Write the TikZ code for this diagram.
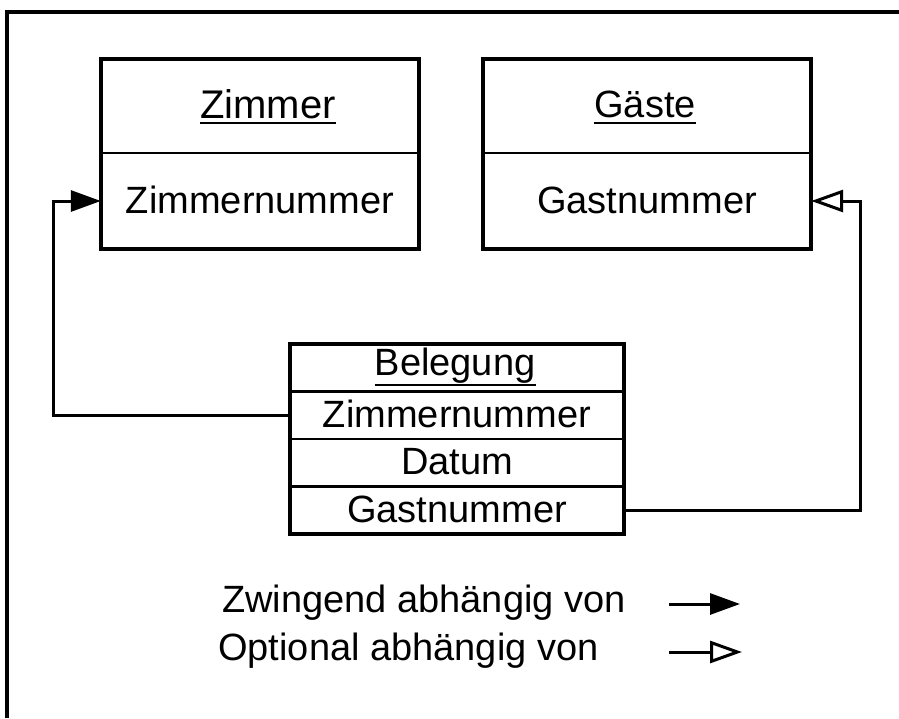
\documentclass[tikz,border=0pt]{standalone}
\usepackage{fontspec}
\setmainfont{Liberation Sans}
\usetikzlibrary{arrows.meta}
\begin{document}
\begin{tikzpicture}[x=1pt,y=-1pt,
 frame/.style={line width=4pt},
 box/.style={draw, line width=4.5pt, inner sep=0pt},
 row/.style={inner sep=0pt, font=\fontsize{38}{40}\selectfont, text height=27pt, text depth=3pt},
 ttl/.style={inner sep=0pt, anchor=base, font=\fontsize{38}{40}\selectfont},
 divider/.style={line width=2.5pt},
 uline/.style={line width=2pt},
 conn/.style={line width=3pt},
 mand/.style={conn, -{Triangle[length=30pt,width=21pt]}},
 opt/.style={conn, -{Triangle[open,length=32pt,width=22pt]}},
 legend/.style={inner sep=0pt, anchor=base west, font=\fontsize{38}{40}\selectfont}]

\useasboundingbox (0,0) rectangle (899,718);
\draw[frame] (7,718) -- (7,12) -- (899,12);

% Zimmer
\node[box, minimum width=318pt, minimum height=190pt] (zimmer) at (260,154) {};
\node[row, minimum width=318pt, minimum height=96pt] (zzn) at (260,201) {Zimmernummer};
\node[ttl, font=\fontsize{40}{42}\selectfont] (zt) at (268,118.5) {Zimmer};
\draw[uline] ([yshift=-4.5pt]zt.base west) -- ([yshift=-4.5pt]zt.base east);
\draw[divider] (zzn.north west) -- (zzn.north east);

% Gaeste
\node[box, minimum width=328pt, minimum height=190pt] (gaeste) at (647,154) {};
\node[row, minimum width=328pt, minimum height=96pt] (ggn) at (647,201) {Gastnummer};
\node[ttl] (gt) at (645,117.5) {Gäste};
\draw[uline] ([yshift=-5pt]gt.base west) -- ([yshift=-5pt]gt.base east);
\draw[divider] (ggn.north west) -- (ggn.north east);

% Belegung
\node[box, minimum width=334pt, minimum height=190pt] (beleg) at (457,439) {};
\node[ttl] (bt) at (455,375) {Belegung};
\draw[uline] ([yshift=-9.5pt]bt.base west) -- ([yshift=-9.5pt]bt.base east);
\node[row, minimum width=334pt, minimum height=47.5pt] (bzn) at (457,415.25) {Zimmernummer};
\node[row, minimum width=334pt, minimum height=47.5pt] (bd) at (457,462.75) {Datum};
\node[row, minimum width=334pt, minimum height=47.5pt] (bgn) at (457,510.25) {Gastnummer};
\draw[divider] (bzn.north west) -- (bzn.north east);
\draw[divider] (bd.north west) -- (bd.north east);
\draw[divider] (bgn.north west) -- (bgn.north east);

% connectors
\draw[mand] (bzn.west) -| ([xshift=-47pt]zzn.west) -- (zzn.west);
\draw[opt] (bgn.east) -| ([xshift=49pt]ggn.east) -- (ggn.east);

% legend
\node[legend] (lz) at (222,612) {Zwingend abhängig von};
\node[legend] (lo) at (218,660) {Optional abhängig von};
\coordinate (ma) at (669,604);
\coordinate (mb) at (740,604);
\coordinate (oa) at (669,652);
\coordinate (ob) at (742,652);
\draw[mand] (ma) -- (mb);
\draw[opt] (oa) -- (ob);
\end{tikzpicture}
\end{document}
